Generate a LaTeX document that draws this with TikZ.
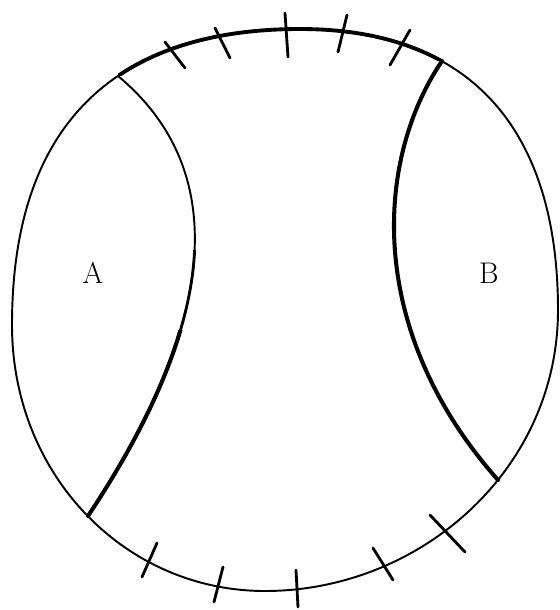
\documentclass[tikz,border=0pt]{standalone}
\usepackage{tikz}

\tikzset{
	rim/.style={line width=1.1pt, line join=round},
	rimheavy/.style={line width=2.2pt},
	border/.style={line width=1.1pt, line cap=round},
	bordermid/.style={line width=1.6pt, line cap=round},
	borderheavy/.style={line width=2.3pt, line cap=round},
	tickmark/.style={line width=1.6pt, line cap=round},
	zone/.style={font=\fontsize{17}{20}\selectfont}
}

\begin{document}
\begin{tikzpicture}[x=0.02cm, y=-0.02cm]
		\useasboundingbox (0,0) rectangle (560,610);
		
		% 外圈
		\draw[rim] (300,29) .. controls (480,29) and (558,140) .. (558,310)
			.. controls (558,470) and (420,591) .. (265,591)
			.. controls (125,591) and (12,475) .. (12,325)
			.. controls (12,110) and (130,29) .. cycle;
		% 上方加粗
		\begin{scope}
			\clip (118,-5) -- (442,-5) -- (442,61) -- (118,76) -- cycle;
			\draw[rimheavy] (12,325) .. controls (12,110) and (130,29) .. (300,29)
				.. controls (480,29) and (558,140) .. (558,310);
		\end{scope}
		
		% 左边界 A
		\draw[border] (118,76) .. controls (225,165) and (225,310) .. (88,516);
		\begin{scope}
			\clip (0,250) rectangle (560,610);
			\draw[bordermid] (118,76) .. controls (225,165) and (225,310) .. (88,516);
		\end{scope}
		\begin{scope}
			\clip (0,330) rectangle (560,610);
			\draw[borderheavy] (118,76) .. controls (225,165) and (225,310) .. (88,516);
		\end{scope}
		
		% 右边界 B
		\draw[borderheavy] (442,61) .. controls (375,160) and (365,330) .. (498,480);
		
		% 刻度
		\foreach \xa/\ya/\xb/\yb in {165/42/185/68, 215/28/230/58, 285/13/288/57,
			347/15/338/52, 410/30/390/65, 157/543/142/577, 223/567/214/602,
			296/570/298/607, 373/548/393/580, 430/515/465/552}
			\draw[tickmark] (\xa,\ya) -- (\xb,\yb);
		
		% 标签
		\node[zone] (labA) at (93,273) {A};
		\node[zone] (labB) at (489,273) {B};
	\end{tikzpicture}
\end{document}
